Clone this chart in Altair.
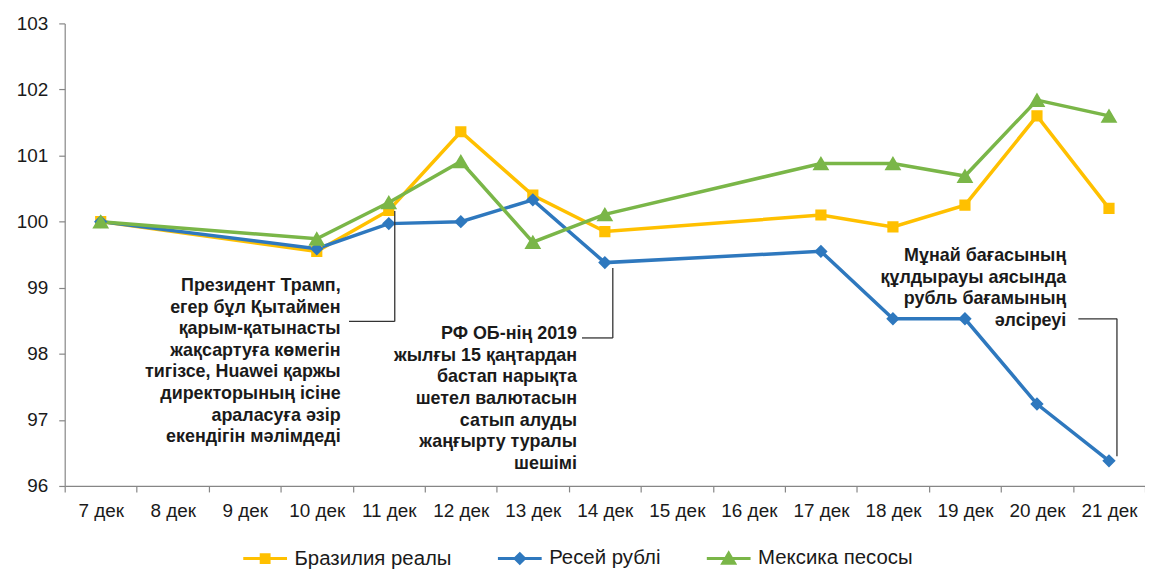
import altair as alt
import pandas as pd

# ---- data ----
days = ["7 дек", "8 дек", "9 дек", "10 дек", "11 дек", "12 дек", "13 дек", "14 дек",
        "15 дек", "16 дек", "17 дек", "18 дек", "19 дек", "20 дек", "21 дек"]
obs_days = ["7 дек", "10 дек", "11 дек", "12 дек", "13 дек", "14 дек",
            "17 дек", "18 дек", "19 дек", "20 дек", "21 дек"]
brl = [100.0, 99.55, 100.17, 101.36, 100.40, 99.85, 100.10, 99.92, 100.25, 101.60, 100.20]
rub = [100.0, 99.59, 99.97, 100.00, 100.33, 99.38, 99.55, 98.53, 98.53, 97.24, 96.38]
mxn = [100.0, 99.74, 100.29, 100.91, 99.69, 100.11, 100.88, 100.88, 100.69, 101.84, 101.60]
series = ["Бразилия реалы", "Ресей рублі", "Мексика песосы"]
y_ticks = [96, 97, 98, 99, 100, 101, 102, 103]

ann1_text = ("Президент Трамп,\nегер бұл Қытаймен\nқарым-қатынасты\nжақсартуға көмегін\n"
             "тигізсе, Huawei қаржы\nдиректорының ісіне\nараласуға әзір\nекендігін мәлімдеді")
ann2_text = ("РФ ОБ-нің 2019\nжылғы 15 қаңтардан\nбастап нарықта\nшетел валютасын\n"
             "сатып алуды\nжаңғырту туралы\nшешімі")
ann3_text = "Мұнай бағасының\nқұлдырауы аясында\nрубль бағамының\nәлсіреуі"

# ---- styles ----
colors = ["#FFC000", "#2E78BE", "#7AB648"]
paths = [
    "M-1,0H1M-0.18,-0.18H0.18V0.18H-0.18Z",
    "M-1,0H1M0,-0.215L0.215,0L0,0.215L-0.215,0Z",
    "M-1,0H1M0,-0.24L0.27,0.22H-0.27Z",
]
FONT = "Liberation Sans"
TXT = "#1a1a1a"
AX = "#868686"

rows = []
for name, vals in zip(series, [brl, rub, mxn]):
    for d, v in zip(obs_days, vals):
        rows.append({"day": d, "idx": days.index(d), "value": v, "series": name})
df = pd.DataFrame(rows)

xscale = alt.Scale(type="band", domain=days, paddingInner=0, paddingOuter=0)
yscale = alt.Scale(domain=[96, 103], nice=False, zero=False)
xaxis = alt.Axis(title=None, labelAngle=0, tickBand="extent", tickSize=6, labelPadding=10,
                 labelFontSize=19, labelFont=FONT, labelColor=TXT, domainColor=AX,
                 tickColor=AX, grid=False, domainWidth=1.2, tickWidth=1.2)
yaxis = alt.Axis(title=None, values=y_ticks, tickSize=6, labelPadding=11, labelFontSize=19,
                 labelFont=FONT, labelColor=TXT, domainColor=AX, tickColor=AX, grid=False,
                 domainWidth=1.2, tickWidth=1.2)


def xe(field="day"):
    return alt.X(f"{field}:O", scale=xscale, axis=xaxis, bandPosition=0.5)


def ye(field="value"):
    return alt.Y(f"{field}:Q", scale=yscale, axis=yaxis)


cscale = alt.Scale(domain=series, range=colors)
leg = alt.Legend(title=None, orient="none", legendX=178, legendY=514, direction="horizontal",
                 symbolSize=1936, symbolStrokeWidth=3, labelFontSize=20.5, labelFont=FONT,
                 labelColor=TXT, labelOffset=6, columnPadding=40)

lines = alt.Chart(df).mark_line(strokeWidth=3.5).encode(
    x=xe(), y=ye(),
    color=alt.Color("series:N", scale=cscale, legend=leg),
    order=alt.Order("idx:Q"),
)

points = alt.Chart(df).mark_point(filled=True, opacity=1, strokeWidth=0, size=3900).encode(
    x=xe(), y=ye(),
    color=alt.Color("series:N", scale=cscale, legend=leg),
    stroke=alt.Stroke("series:N", scale=cscale, legend=leg),
    shape=alt.Shape("series:N", scale=alt.Scale(domain=series, range=paths), legend=leg),
)


def ann_text(day, val, text, dx):
    d = pd.DataFrame({"day": [day], "value": [val], "label": [text]})
    return alt.Chart(d).mark_text(align="right", baseline="alphabetic", dx=dx, fontSize=18,
                                  fontWeight="bold", font=FONT, color=TXT, lineHeight=21.7,
                                  lineBreak="\n").encode(x=xe(), y=ye(), text="label:N")


def ann_vline(day, v1, v2, off):
    d = pd.DataFrame({"day": [day], "value": [v1], "value2": [v2]})
    return alt.Chart(d).mark_rule(xOffset=off, strokeWidth=1.3, color="#333333").encode(
        x=xe(), y=ye(), y2="value2:Q")


def ann_hline(day, v, off, length):
    d = pd.DataFrame({"day": [day], "value": [v]})
    return alt.Chart(d).mark_tick(orient="horizontal", xOffset=off, size=length, thickness=1.3,
                                  color="#333333", opacity=1).encode(x=xe(), y=ye())


layers = [
    lines, points,
    ann_vline("11 дек", 100.16, 98.49, 6), ann_hline("11 дек", 98.49, -17, 46),
    ann_vline("14 дек", 99.30, 98.24, 8), ann_hline("14 дек", 98.24, -7.5, 31),
    ann_vline("21 дек", 98.53, 96.45, 8), ann_hline("21 дек", 98.53, -11.3, 39),
    ann_text("10 дек", 98.95, ann1_text, 24),
    ann_text("14 дек", 98.22, ann2_text, -28),
    ann_text("21 дек", 99.40, ann3_text, -43),
]

chart = alt.layer(*layers).properties(
    width=1086, height=465,
    autosize=alt.AutoSizeParams(type="none"),
    padding={"left": 57, "top": 14, "right": 0, "bottom": 83},
).configure_view(stroke=None)

chart.save("out.html", embed_options={"renderer": "svg", "actions": False})
